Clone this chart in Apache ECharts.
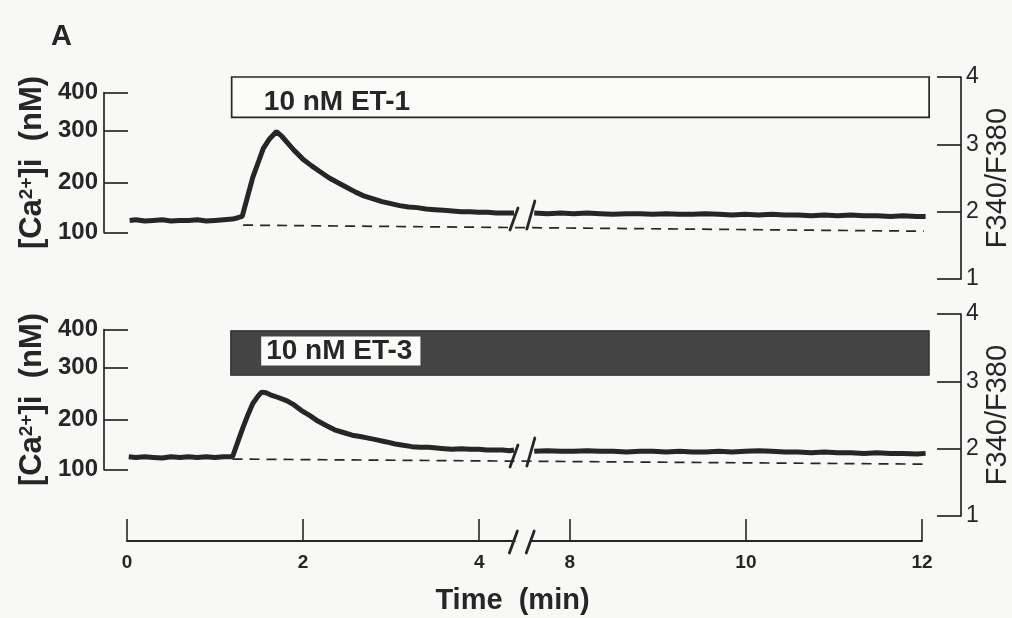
<!DOCTYPE html>
<html>
<head>
<meta charset="utf-8">
<script src="https://cdn.jsdelivr.net/npm/echarts@6/dist/echarts.min.js"></script>
<style>
html,body{margin:0;padding:0;background:#f8f8f6;}
#c{width:1012px;height:618px;}
</style>
</head>
<body>
<div id="c"></div>
<script>
// ---------------- data ----------------
// time axis (min) and its break
const timeTicks = [0, 2, 4, 8, 10, 12];
const timeBreak = [4.4, 7.55];
// right axis: fluorescence ratio F340/F380
const ratioTicks = [1, 2, 3, 4];
// left axis: [Ca2+]i labels and the ratio at which each sits
const caTickLabels = [100, 200, 300, 400];
const caTickRatio = [1.69, 2.43, 3.20, 3.77];

// Panel 1: 10 nM ET-1
const et1EarlyTime = [0.03,0.1,0.2,0.3,0.4,0.5,0.6,0.7,0.8,0.9,1.0,1.1,1.2,
  1.26,1.31,1.37,1.43,1.5,1.55,1.62,1.7,1.76,1.82,1.9,
  2.0,2.1,2.2,2.3,2.4,2.5,2.6,2.7,2.8,2.9,3.0,3.1,3.2,3.3,3.4,3.5,3.6,3.7,3.8,3.9,4.0,4.1,4.2,4.3,4.4];
const et1EarlyRatio = [1.87,1.88,1.86,1.87,1.88,1.86,1.87,1.87,1.88,1.86,1.87,1.88,1.89,
  1.91,1.93,2.22,2.51,2.76,2.94,3.08,3.19,3.12,3.03,2.91,
  2.78,2.68,2.59,2.50,2.43,2.36,2.29,2.23,2.19,2.15,2.12,2.09,2.07,2.06,2.04,2.03,2.02,2.01,2.00,2.00,1.99,1.99,1.98,1.98,1.98];
const lateTime = [7.6,7.75,7.9,8.05,8.2,8.35,8.5,8.65,8.8,8.95,9.1,9.25,9.4,9.55,9.7,9.85,10.0,10.15,10.3,10.45,
  10.6,10.75,10.9,11.05,11.2,11.35,11.5,11.65,11.8,11.95,12.05];
const et1LateRatio = [1.98,1.97,1.98,1.97,1.98,1.97,1.96,1.97,1.97,1.96,1.97,1.96,1.96,1.97,1.96,1.95,1.96,1.95,1.96,1.95,
  1.95,1.94,1.95,1.94,1.95,1.94,1.94,1.93,1.94,1.93,1.93];
const et1BaselineTime = [1.32, 12.03];
const et1BaselineRatio = [1.80, 1.71];
const et1Stim = [1.19, 12.09];       // application period (min)
const et1StimBox = [3.40, 4.07];     // box extent on ratio axis

// Panel 2: 10 nM ET-3
const et3EarlyTime = [0.02,0.1,0.2,0.3,0.4,0.5,0.6,0.7,0.8,0.9,1.0,1.1,
  1.2,1.26,1.32,1.38,1.43,1.49,1.53,1.58,1.63,1.72,1.82,1.9,1.98,2.08,2.17,2.27,2.36,2.46,2.56,2.65,
  2.73,2.84,2.95,3.05,3.14,3.24,3.33,3.43,3.52,3.61,3.7,3.8,3.9,4.0,4.09,4.18,4.27,4.35,4.4];
const et3EarlyRatio = [1.88,1.87,1.88,1.87,1.86,1.88,1.87,1.88,1.87,1.88,1.87,1.88,
  1.88,2.10,2.32,2.52,2.67,2.78,2.84,2.83,2.80,2.76,2.71,2.65,2.57,2.49,2.41,2.34,2.28,2.24,2.20,2.18,
  2.16,2.13,2.10,2.07,2.05,2.03,2.02,2.02,2.01,2.00,1.99,2.00,1.99,1.99,1.98,1.98,1.98,1.97,1.98];
const et3LateRatio = [1.96,1.97,1.96,1.96,1.97,1.96,1.96,1.95,1.96,1.96,1.95,1.96,1.95,1.95,1.96,1.95,1.96,1.97,1.96,1.95,
  1.95,1.94,1.95,1.94,1.94,1.93,1.94,1.93,1.93,1.92,1.93];
const et3BaselineTime = [1.20, 12.03];
const et3BaselineRatio = [1.846, 1.77];
const et3Stim = [1.18, 12.09];
const et3StimBox = [3.09, 3.75];

const stimLabels = ['10 nM ET-1', '10 nM ET-3'];

// ---------------- styling / layout ----------------
const INK = '#262626';
const BG = '#f8f8f6';
const FONT = '"Liberation Sans", Arial, Helvetica, sans-serif';
const zip = (xs, ys) => xs.map((x, i) => [x, ys[i]]);

const panelTops = [77, 314];
const panelH = 202;
const rMin = ratioTicks[0], rMax = ratioTicks[ratioTicks.length - 1];
const yOf = (top, r) => top + (rMax - r) / (rMax - rMin) * panelH;
const caTop = t => yOf(t, caTickRatio[caTickRatio.length - 1]);
const caH = yOf(0, caTickRatio[0]) - yOf(0, caTickRatio[caTickRatio.length - 1]);

const breaks = () => [{start: timeBreak[0], end: timeBreak[1], gap: 0.18}];

function panelX(gi) {
  return {gridIndex: gi, type: 'value', min: 0, max: 12.1, show: false,
    axisLine: {onZero: false},
    breaks: breaks(), breakArea: {show: false}};
}
function ratioY(gi) {
  return {gridIndex: gi, type: 'value', position: 'right', offset: 31,
    min: rMin, max: rMax, interval: 1,
    name: 'F340/F380', nameLocation: 'middle', nameRotate: 90, nameGap: 22, nameMoveOverlap: false,
    nameTextStyle: {fontSize: 29, color: INK, fontFamily: FONT},
    axisLine: {show: true, onZero: false, lineStyle: {color: INK, width: 1.7}},
    axisTick: {show: true, inside: true, length: 24, lineStyle: {color: INK, width: 1.7}},
    axisLabel: {show: true, margin: 5, fontSize: 23, color: INK, fontFamily: FONT},
    splitLine: {show: false}};
}
function caY(gi) {
  return {gridIndex: gi, type: 'value', position: 'left',
    min: caTickRatio[0], max: caTickRatio[caTickRatio.length - 1],
    name: '[Ca{sup|2+}]i  (nM)', nameLocation: 'middle', nameRotate: 90, nameGap: 56, nameMoveOverlap: false,
    nameTextStyle: {fontSize: 31, fontWeight: 'bold', color: INK, fontFamily: FONT,
      rich: {sup: {fontSize: 19, fontWeight: 'bold', color: INK, fontFamily: FONT, verticalAlign: 'top', padding: [0, 0, 10, 0]}}},
    axisLine: {show: true, onZero: false, lineStyle: {color: INK, width: 1.7}},
    axisTick: {show: true, inside: true, length: 24, customValues: caTickRatio, lineStyle: {color: INK, width: 1.7}},
    axisLabel: {show: true, margin: 6, fontSize: 24, fontWeight: 'bold', color: INK, fontFamily: FONT,
      customValues: caTickRatio,
      formatter: v => {
        const i = caTickRatio.findIndex(r => Math.abs(r - v) < 1e-6);
        return i >= 0 ? String(caTickLabels[i]) : '';
      }},
    splitLine: {show: false}};
}
function trace(gi, xs, ys, extra) {
  return Object.assign({type: 'line', xAxisIndex: gi, yAxisIndex: gi, data: zip(xs, ys),
    showSymbol: false, symbol: 'none', smooth: false, clip: false,
    lineStyle: {color: INK, width: 5}, z: 5}, extra || {});
}
function baseline(gi, xs, ys) {
  return {type: 'line', xAxisIndex: gi, yAxisIndex: gi, data: zip(xs, ys),
    showSymbol: false, symbol: 'none', lineStyle: {color: INK, width: 1.7, type: [10, 7]}, z: 4};
}
const gridBase = {outerBoundsMode: 'none', containLabel: false};

const option = {
  backgroundColor: BG,
  animation: false,
  title: {text: 'A', left: 46, top: 17,
    textStyle: {fontSize: 29, fontWeight: 'bold', color: INK, fontFamily: FONT}},
  grid: [
    Object.assign({left: 127, right: 82, top: panelTops[0], height: panelH}, gridBase),
    Object.assign({left: 127, right: 82, top: panelTops[1], height: panelH}, gridBase),
    Object.assign({left: 104, width: 20, top: caTop(panelTops[0]), height: caH}, gridBase),
    Object.assign({left: 104, width: 20, top: caTop(panelTops[1]), height: caH}, gridBase),
    Object.assign({left: 127, right: 90, top: 480, height: 61}, gridBase)
  ],
  xAxis: [
    panelX(0), panelX(1),
    {gridIndex: 2, type: 'value', min: 0, max: 1, show: false, axisLine: {onZero: false}},
    {gridIndex: 3, type: 'value', min: 0, max: 1, show: false, axisLine: {onZero: false}},
    {gridIndex: 4, type: 'value', min: 0, max: 12, interval: 2, position: 'bottom',
      breaks: breaks(),
      breakArea: {show: true, itemStyle: {color: BG, borderWidth: 0, opacity: 1},
        zigzagAmplitude: 0, expandOnClick: false},
      name: 'Time  (min)', nameLocation: 'middle', nameGap: 45, nameMoveOverlap: false,
      nameTextStyle: {fontSize: 29, fontWeight: 'bold', color: INK, fontFamily: FONT, padding: [0, 24, 0, 0]},
      axisLine: {show: true, onZero: false, lineStyle: {color: INK, width: 1.9}},
      axisTick: {show: true, inside: true, length: 22, customValues: timeTicks, lineStyle: {color: INK, width: 1.6}},
      axisLabel: {show: true, margin: 12, fontSize: 19, fontWeight: 'bold', color: INK, fontFamily: FONT,
        customValues: timeTicks},
      splitLine: {show: false}}
  ],
  yAxis: [
    ratioY(0), ratioY(1), caY(2), caY(3),
    {gridIndex: 4, type: 'value', min: 0, max: 1, show: false, axisLine: {onZero: false}}
  ],
  series: [
    trace(0, et1EarlyTime, et1EarlyRatio, {
      markArea: {silent: true,
        itemStyle: {color: '#fbfbfa', borderColor: INK, borderWidth: 1.7},
        label: {show: true, position: 'insideLeft', distance: 0, offset: [33, 5],
          fontSize: 28, fontWeight: 'bold', color: INK, fontFamily: FONT},
        data: [[{name: stimLabels[0], xAxis: et1Stim[0], yAxis: et1StimBox[0]},
                {xAxis: et1Stim[1], yAxis: et1StimBox[1]}]]}
    }),
    trace(0, lateTime, et1LateRatio),
    baseline(0, et1BaselineTime, et1BaselineRatio),
    trace(1, et3EarlyTime, et3EarlyRatio, {
      markArea: {silent: true,
        itemStyle: {color: '#444444', borderColor: '#2a2a2a', borderWidth: 1.2},
        label: {show: true, position: 'insideLeft', distance: 0, offset: [31, -2],
          fontSize: 28, fontWeight: 'bold', color: INK, fontFamily: FONT,
          backgroundColor: '#fbfbfa', padding: [1, 8, 0, 5]},
        data: [[{name: stimLabels[1], xAxis: et3Stim[0], yAxis: et3StimBox[0]},
                {xAxis: et3Stim[1], yAxis: et3StimBox[1]}]]}
    }),
    trace(1, lateTime, et3LateRatio),
    baseline(1, et3BaselineTime, et3BaselineRatio)
  ]
};

const chart = echarts.init(document.getElementById('c'));
chart.setOption(option);

// axis-break "//" marks placed through the chart's own coordinate conversion
function slash(cx, cy, h) {
  return {type: 'line', z: 100,
    shape: {x1: cx - 4, y1: cy + h / 2, x2: cx + 4, y2: cy - h / 2},
    style: {stroke: INK, lineWidth: 2.8, lineCap: 'round'}};
}
const marks = [];
[[0, et1EarlyRatio[et1EarlyRatio.length - 1]], [1, et3EarlyRatio[et3EarlyRatio.length - 1]]].forEach(([gi, r]) => {
  const p1 = chart.convertToPixel({gridIndex: gi}, [timeBreak[0], r]);
  const p2 = chart.convertToPixel({gridIndex: gi}, [timeBreak[1], r]);
  marks.push(slash(p1[0], p1[1] + 6, 22), slash(p2[0] + 1, p2[1] + 2, 28));
});
const a1 = chart.convertToPixel({gridIndex: 4}, [timeBreak[0], 0]);
const a2 = chart.convertToPixel({gridIndex: 4}, [timeBreak[1], 0]);
marks.push(slash(a1[0] - 1, a1[1] + 1, 22), slash(a2[0], a2[1] + 1, 22));
chart.setOption({graphic: marks});
</script>
</body>
</html>
